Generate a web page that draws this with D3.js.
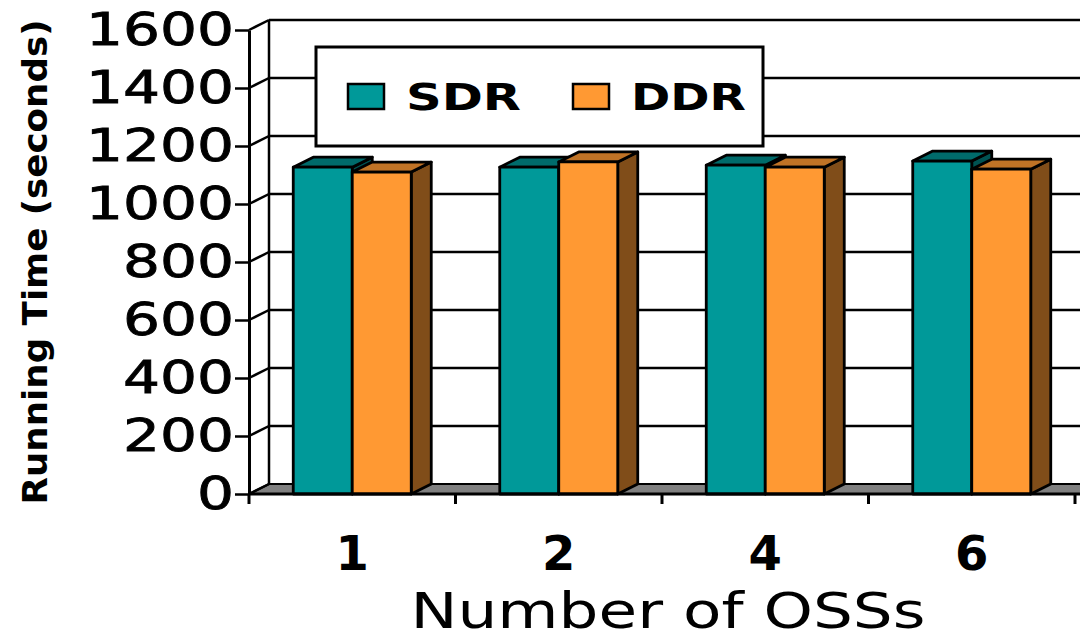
<!DOCTYPE html>
<html lang="en">
<head>
<meta charset="UTF-8">
<script src="https://d3js.org/d3.v7.min.js"></script>
<title>Running Time</title>
<style>
  body { margin: 0; background: #fff; }
  svg { display: block; }
</style>
</head>
<body>
<script>
    // values
    var categories = ["1", "2", "4", "6"];
    var seriesNames = ["SDR", "DDR"];
    var sdrValues = [1127, 1127, 1134, 1148];
    var ddrValues = [1110, 1145, 1127, 1120];
    var yTicks = [0, 200, 400, 600, 800, 1000, 1200, 1400, 1600];

    var width = 1080, height = 644;
    var depth = {dx: 20, dy: -10};

    var colors = {
        SDR: {front: "#009999", top: "#006b6b", side: "#005252"},
        DDR: {front: "#ff9933", top: "#c07326", side: "#804d19"}
    };

    var svg = d3.select("body").append("svg")
        .attr("width", width)
        .attr("height", height);

    var x = d3.scaleBand()
        .domain(categories)
        .range([249, 1075]);

    var xSeries = d3.scaleBand()
        .domain(seriesNames)
        .range([0, x.bandwidth()])
        .paddingInner(0)
        .paddingOuter(0.75);

    var y = d3.scaleLinear()
        .domain([0, 1600])
        .range([494, 30]);

    var x0 = x.range()[0];

    // floor
    svg.append("polygon")
        .attr("points", [[x0, y(0)], [width + 30, y(0)], [width + 30 + depth.dx, y(0) + depth.dy], [x0 + depth.dx, y(0) + depth.dy]].join(" "))
        .attr("fill", "#808080")
        .attr("stroke", "#000")
        .attr("stroke-width", 2);

    // back wall gridlines + left wall diagonals
    var grid = svg.append("g").attr("stroke", "#000").attr("stroke-width", 2.5);
    yTicks.forEach(function(t) {
        if (t > 0) {
            grid.append("line")
                .attr("x1", x0 + depth.dx).attr("x2", width)
                .attr("y1", y(t) + depth.dy).attr("y2", y(t) + depth.dy);
        }
        grid.append("line")
            .attr("x1", x0).attr("y1", y(t))
            .attr("x2", x0 + depth.dx).attr("y2", y(t) + depth.dy);
    });
    grid.append("line")
        .attr("x1", x0 + depth.dx).attr("x2", x0 + depth.dx)
        .attr("y1", y(1600) + depth.dy).attr("y2", y(0) + depth.dy);

    // legend box
    var legend = svg.append("g");
    legend.append("rect")
        .attr("x", 316).attr("y", 47)
        .attr("width", 447).attr("height", 99)
        .attr("fill", "#fff")
        .attr("stroke", "#000")
        .attr("stroke-width", 3);
    var legendX = [348, 573];
    seriesNames.forEach(function(s, i) {
        legend.append("rect")
            .attr("x", legendX[i]).attr("y", 84)
            .attr("width", 36).attr("height", 25)
            .attr("fill", colors[s].front)
            .attr("stroke", "#000")
            .attr("stroke-width", 2.5);
        legend.append("text")
            .attr("x", legendX[i] + 58).attr("y", 110)
            .attr("font-family", "DejaVu Sans")
            .attr("font-weight", "bold")
            .attr("font-size", 38)
            .attr("textLength", 115)
            .attr("lengthAdjust", "spacingAndGlyphs")
            .text(s);
    });

    // bars, drawn left to right so later faces cover earlier sides
    var data = [];
    categories.forEach(function(c, i) {
        data.push({cat: c, series: "SDR", value: sdrValues[i]});
        data.push({cat: c, series: "DDR", value: ddrValues[i]});
    });

    var bars = svg.append("g").selectAll("g")
        .data(data)
        .enter().append("g")
        .attr("stroke", "#000")
        .attr("stroke-width", 2.8)
        .attr("stroke-linejoin", "round");

    bars.each(function(d) {
        var g = d3.select(this);
        var left = x(d.cat) + xSeries(d.series);
        var right = left + xSeries.bandwidth();
        var top = y(d.value), bottom = y(0);
        var c = colors[d.series];
        g.append("polygon")
            .attr("points", [[right, bottom], [right + depth.dx, bottom + depth.dy], [right + depth.dx, top + depth.dy], [right, top]].join(" "))
            .attr("fill", c.side);
        g.append("polygon")
            .attr("points", [[left, top], [right, top], [right + depth.dx, top + depth.dy], [left + depth.dx, top + depth.dy]].join(" "))
            .attr("fill", c.top);
        g.append("rect")
            .attr("x", left).attr("y", top)
            .attr("width", right - left).attr("height", bottom - top)
            .attr("fill", c.front);
    });

    // y axis
    var yAxis = d3.axisLeft(y)
        .tickValues(yTicks)
        .tickFormat(d3.format("d"))
        .tickSize(14)
        .tickSizeOuter(0)
        .tickPadding(1);

    var yG = svg.append("g")
        .attr("transform", "translate(" + x0 + ",0)")
        .call(yAxis);
    yG.select(".domain").attr("stroke-width", 3);
    yG.selectAll(".tick line").attr("stroke-width", 2.5);
    yG.selectAll(".tick text")
        .attr("font-family", "DejaVu Sans")
        .attr("font-size", 44)
        .attr("fill", "#000")
        .attr("stroke", "#000")
        .attr("stroke-width", 0.8)
        .attr("textLength", function(d) { return String(d).length * 37; })
        .attr("lengthAdjust", "spacingAndGlyphs");

    // x axis: labels at band centres, ticks at band edges
    var xAxis = d3.axisBottom(x)
        .tickSize(0)
        .tickPadding(42);
    var xG = svg.append("g")
        .attr("transform", "translate(0," + y(0) + ")")
        .call(xAxis);
    xG.select(".domain").remove();
    xG.selectAll(".tick text")
        .attr("font-family", "DejaVu Sans")
        .attr("font-weight", "bold")
        .attr("font-size", 48)
        .attr("fill", "#000");

    svg.append("line")
        .attr("x1", x0).attr("x2", width)
        .attr("y1", y(0)).attr("y2", y(0))
        .attr("stroke", "#000").attr("stroke-width", 3);
    svg.append("g").selectAll("line")
        .data(categories.map(function(c) { return x(c); }).concat([x.range()[1]]))
        .enter().append("line")
        .attr("x1", function(d) { return d; }).attr("x2", function(d) { return d; })
        .attr("y1", y(0)).attr("y2", y(0) + 10)
        .attr("stroke", "#000").attr("stroke-width", 3);

    // axis titles
    svg.append("text")
        .attr("transform", "translate(47,262) rotate(-90)")
        .attr("text-anchor", "middle")
        .attr("font-family", "DejaVu Sans")
        .attr("font-weight", "bold")
        .attr("font-size", 34)
        .attr("textLength", 485)
        .attr("lengthAdjust", "spacingAndGlyphs")
        .text("Running Time (seconds)");

    svg.append("text")
        .attr("x", 668).attr("y", 628)
        .attr("text-anchor", "middle")
        .attr("font-family", "DejaVu Sans")
        .attr("font-size", 50)
        .attr("textLength", 515)
        .attr("lengthAdjust", "spacingAndGlyphs")
        .text("Number of OSSs");
</script>
</body>
</html>
